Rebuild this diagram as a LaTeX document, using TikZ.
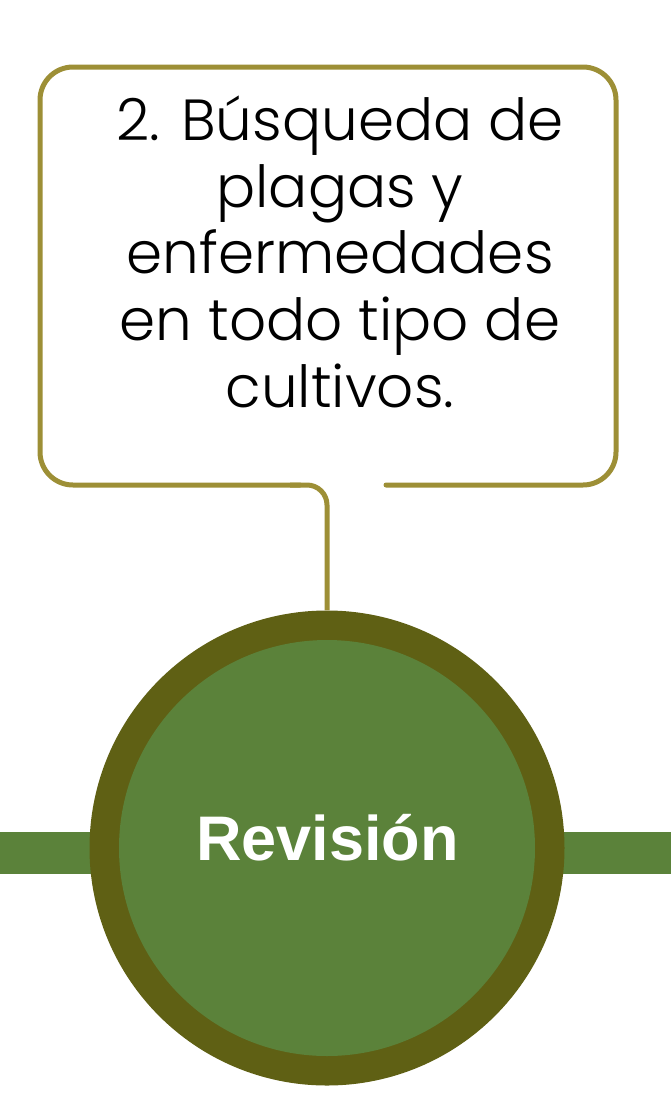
\documentclass[tikz,border=0pt]{standalone}
\usepackage{fontspec}
\setmainfont{Liberation Sans}
\newfontfamily\boxfont{Poppins Light}
\definecolor{calloutline}{RGB}{157,143,54}
\definecolor{ringcol}{RGB}{95,96,20}
\definecolor{coregreen}{RGB}{91,130,58}
\tikzset{
  callout/.style={draw=calloutline, line width=5pt, line cap=round},
  bar/.style={fill=coregreen, draw=none},
  boxline/.style={font=\boxfont\fontsize{58}{67}\selectfont, text=black, inner sep=0pt, anchor=base},
}
\begin{document}
\begin{tikzpicture}[x=1pt,y=-1pt]
\useasboundingbox (0,0) rectangle (671,1112);
% side bars
\fill[bar] (0,832) rectangle (200,874);
\fill[bar] (450,832) rectangle (671,874);
% circle
\node[circle, fill=ringcol, minimum size=475pt, inner sep=0pt] (ring) at (327,848) {};
\node[circle, fill=coregreen, minimum size=416pt, inner sep=0pt] (core) at (327,848) {};
\node[font=\bfseries\fontsize{63}{72}\selectfont, text=white, inner sep=0pt, anchor=base] (title) at (327.5,860) {Revisión};
% callout box
\coordinate (gapend) at (386,485);
\coordinate (tailstart) at (290,485);
\coordinate (tailcorner) at (327,485);
\draw[callout, rounded corners=33pt] (gapend) -- (616,485) -- (616,67) -- (40,67) -- (40,485) -- (300,485);
\draw[callout, rounded corners=20pt, line cap=butt] (tailstart) -- (tailcorner) -- (ring.north);
% text
\node[boxline] (l1) at (340,140) {2. Búsqueda de};
\node[boxline] (l2) at (340,207) {plagas y};
\node[boxline] (l3) at (340,273) {enfermedades};
\node[boxline] (l4) at (340,340) {en todo tipo de};
\node[boxline] (l5) at (340,407) {cultivos.};
\end{tikzpicture}
\end{document}
